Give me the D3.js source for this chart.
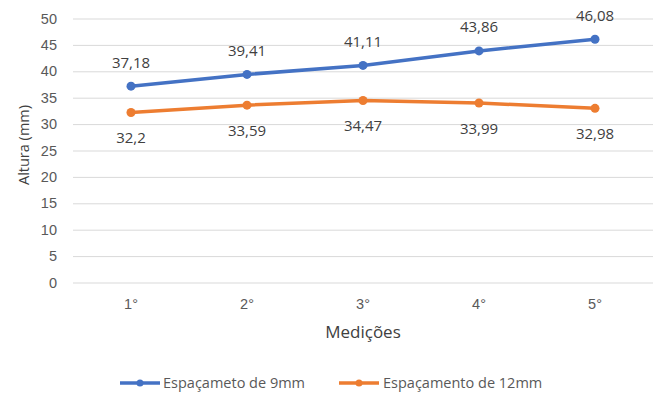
<!DOCTYPE html>
<html>
<head>
<meta charset="utf-8">
<script src="https://cdn.jsdelivr.net/npm/d3@7"></script>
<style>
  html, body { margin: 0; padding: 0; background: #fff; }
  svg { display: block; font-family: "Open Sans", "DejaVu Sans", sans-serif; }
</style>
</head>
<body>
<svg id="chart" width="657" height="396"></svg>
<script>
const categories = ["1°", "2°", "3°", "4°", "5°"];
const seriesNames = ["Espaçameto de 9mm", "Espaçamento de 12mm"];
const values9mm = [37.18, 39.41, 41.11, 43.86, 46.08];
const values12mm = [32.2, 33.59, 34.47, 33.99, 32.98];
const yTicks = [0, 5, 10, 15, 20, 25, 30, 35, 40, 45, 50];
const colors = ["#4472C4", "#ED7D31"];

const svg = d3.select("#chart");
const plotLeft = 73, plotRight = 653, plotTop = 18.5, plotBottom = 282.5;

const x = d3.scaleBand().domain(categories).range([plotLeft, plotRight]);
const y = d3.scaleLinear().domain([0, 50]).range([plotBottom, plotTop]);
const fmt = v => String(v).replace(".", ",");

// horizontal gridlines + y tick labels
const yAxis = d3.axisLeft(y).tickValues(yTicks).tickSize(-(plotRight - plotLeft)).tickPadding(16);
const gy = svg.append("g").attr("transform", `translate(${plotLeft},0)`).call(yAxis);
gy.select(".domain").remove();
gy.selectAll(".tick line").attr("stroke", "#d9d9d9").attr("stroke-width", 1);
gy.selectAll(".tick text").attr("fill", "#595959").style("font-size", "14.5px");

// category labels
const xAxis = d3.axisBottom(x).tickSize(0).tickPadding(16);
const gx = svg.append("g").attr("transform", `translate(0,${plotBottom})`).call(xAxis);
gx.select(".domain").remove();
gx.selectAll(".tick text").attr("fill", "#595959").style("font-size", "14.5px");

// axis titles
svg.append("text").attr("x", x(categories[2]) + x.bandwidth() / 2).attr("y", 338)
  .attr("text-anchor", "middle").attr("fill", "#404040").style("font-size", "17px").text("Medições");
svg.append("text").attr("transform", `translate(29,145) rotate(-90)`)
  .attr("text-anchor", "middle").attr("fill", "#404040").style("font-size", "14.5px").text("Altura (mm)");

const cx = c => x(c) + x.bandwidth() / 2;
const line = d3.line().x((d, i) => cx(categories[i])).y(d => y(d));

[values9mm, values12mm].forEach((vals, s) => {
  const g = svg.append("g");
  g.append("path").datum(vals).attr("d", line).attr("fill", "none")
    .attr("stroke", colors[s]).attr("stroke-width", 3.5).attr("stroke-linejoin", "round");
  g.selectAll("circle").data(vals).join("circle")
    .attr("cx", (d, i) => cx(categories[i])).attr("cy", d => y(d)).attr("r", 4.5)
    .attr("fill", colors[s]);
  g.selectAll("text").data(vals).join("text")
    .attr("x", (d, i) => cx(categories[i]))
    .attr("y", d => s === 0 ? y(d) - 18.5 : y(d) + 31)
    .attr("text-anchor", "middle").attr("fill", "#404040").style("font-size", "15px")
    .text(fmt);
});

// legend
const legendY = 383;
const legendItems = [{ x0: 120, tx: 163 }, { x0: 339, tx: 383 }];
legendItems.forEach((it, s) => {
  svg.append("line").attr("x1", it.x0).attr("x2", it.x0 + 40).attr("y1", legendY).attr("y2", legendY)
    .attr("stroke", colors[s]).attr("stroke-width", 3.5);
  svg.append("circle").attr("cx", it.x0 + 20).attr("cy", legendY).attr("r", 3.5).attr("fill", colors[s]);
  svg.append("text").attr("x", it.tx).attr("y", legendY).attr("dy", "0.35em")
    .attr("fill", "#595959").style("font-size", "14.5px").text(seriesNames[s]);
});
</script>
</body>
</html>
